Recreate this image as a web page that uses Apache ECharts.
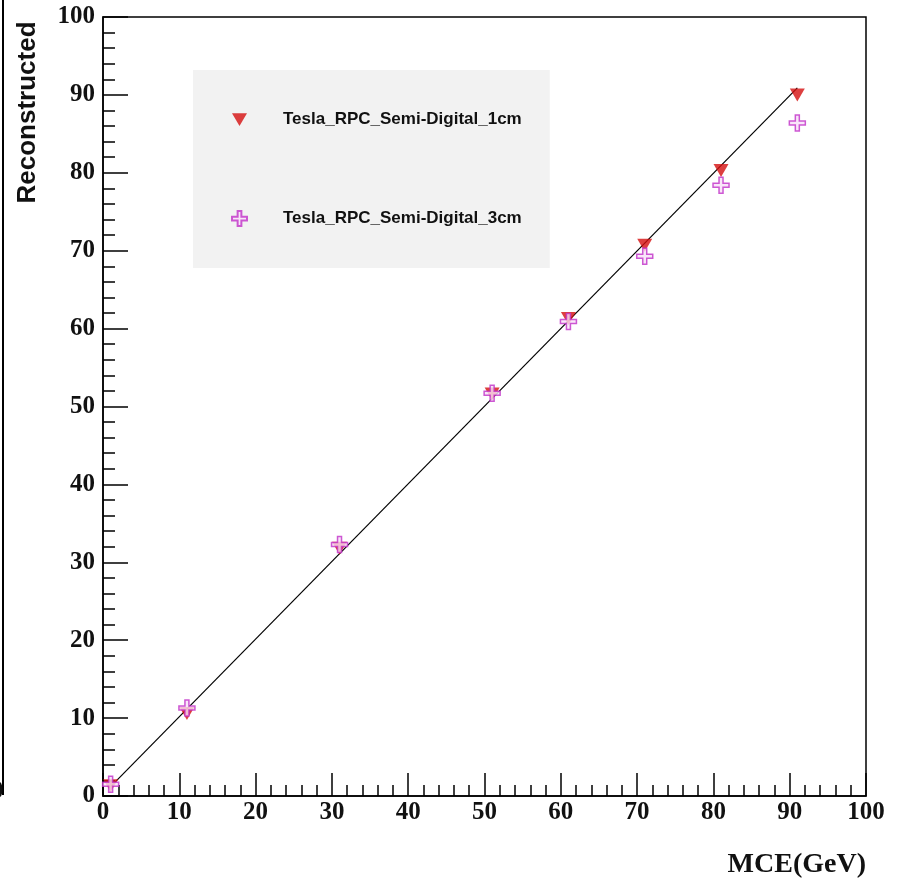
<!DOCTYPE html>
<html>
<head>
<meta charset="utf-8">
<script src="https://cdn.jsdelivr.net/npm/echarts@6/dist/echarts.min.js"></script>
<style>html,body{margin:0;padding:0;background:#fff;}#c{width:897px;height:879px;}</style>
</head>
<body>
<div id="c"></div>
<script>
const mce = [1, 11, 31, 51, 61, 71, 81, 91];
const reco1cm = [1.3, 10.6, 31.8, 51.6, 61.3, 70.7, 80.3, 90.0];
const reco3cm = [1.5, 11.3, 32.3, 51.7, 60.9, 69.3, 78.4, 86.4];
const fitX = [1, 91];
const fitY = [1.2, 90.9];
const name1 = 'Tesla_RPC_Semi-Digital_1cm';
const name2 = 'Tesla_RPC_Semi-Digital_3cm';

const serif = "'Liberation Serif','Times New Roman',serif";
const sans = "'Liberation Sans',Arial,sans-serif";
const crossPath = 'path://M3,0 L5,0 L5,3 L8,3 L8,5 L5,5 L5,8 L3,8 L3,5 L0,5 L0,3 L3,3 Z';
const triDownPath = 'path://M0,0 L10,0 L5,8.5 Z';

const chart = echarts.init(document.getElementById('c'), null, {renderer: 'canvas'});
chart.setOption({
  animation: false,
  backgroundColor: '#ffffff',
  grid: {left: 103, right: 31, top: 17, bottom: 81, show: true, borderColor: '#000', borderWidth: 1.5, backgroundColor: 'transparent'},
  legend: {
    data: [name1, name2],
    orient: 'vertical',
    left: 193, top: 70,
    backgroundColor: '#f2f2f2',
    padding: [41, 28, 41, 38],
    itemWidth: 15, itemHeight: 15,
    itemGap: 82,
    textStyle: {fontFamily: sans, fontWeight: 'bold', fontSize: 17, color: '#111', padding: [0, 0, 0, 31]}
  },
  xAxis: {
    type: 'value', min: 0, max: 100, interval: 10,
    name: 'MCE(GeV)', nameLocation: 'end', nameGap: 0,
    nameTextStyle: {fontFamily: serif, fontWeight: 'bold', fontSize: 28, color: '#111', align: 'right', verticalAlign: 'top', padding: [55, 0, 0, 0]},
    axisLine: {lineStyle: {color: '#000', width: 1.5}},
    axisTick: {inside: true, length: 23, lineStyle: {color: '#000', width: 1.5}},
    minorTick: {show: true, splitNumber: 5, length: 11, lineStyle: {color: '#000', width: 1.5}},
    axisLabel: {fontFamily: serif, fontWeight: 'bold', fontSize: 25, color: '#111', margin: 4},
    splitLine: {show: false}
  },
  yAxis: {
    type: 'value', min: 0, max: 100, interval: 10,
    name: 'Reconstructed', nameLocation: 'middle', nameRotate: 90, nameGap: 62,
    nameTextStyle: {fontFamily: sans, fontWeight: 'bold', fontSize: 26, color: '#111', padding: [0, 0, 0, 588]},
    axisLine: {lineStyle: {color: '#000', width: 1.5}},
    axisTick: {inside: true, length: 25, lineStyle: {color: '#000', width: 1.5}},
    minorTick: {show: true, splitNumber: 5, length: 12, lineStyle: {color: '#000', width: 1.5}},
    axisLabel: {fontFamily: serif, fontWeight: 'bold', fontSize: 25, color: '#111', margin: 8},
    splitLine: {show: false}
  },
  series: [
    {
      name: 'fit', type: 'line', data: fitX.map((x, i) => [x, fitY[i]]),
      showSymbol: false, symbol: 'none', lineStyle: {color: '#000', width: 1.2}, z: 1, silent: true
    },
    {
      name: name1, type: 'scatter', data: mce.map((x, i) => [x, reco1cm[i]]),
      symbol: triDownPath, symbolSize: [15, 13],
      itemStyle: {color: '#d40f0f'}, z: 3
    },
    {
      name: name2, type: 'scatter', data: mce.map((x, i) => [x, reco3cm[i]]),
      symbol: crossPath, symbolSize: 16,
      itemStyle: {color: '#f8e0f8', borderColor: '#c030c8', borderWidth: 1.5}, z: 4
    }
  ],
  graphic: [
    {type: 'line', shape: {x1: 3, y1: 0, x2: 3, y2: 795}, style: {stroke: '#000', lineWidth: 2}, silent: true},
    {type: 'text', left: -9, top: 779, style: {text: '0', font: "bold 25px 'Liberation Serif'", fill: '#111'}, silent: true}
  ]
});
</script>
</body>
</html>
